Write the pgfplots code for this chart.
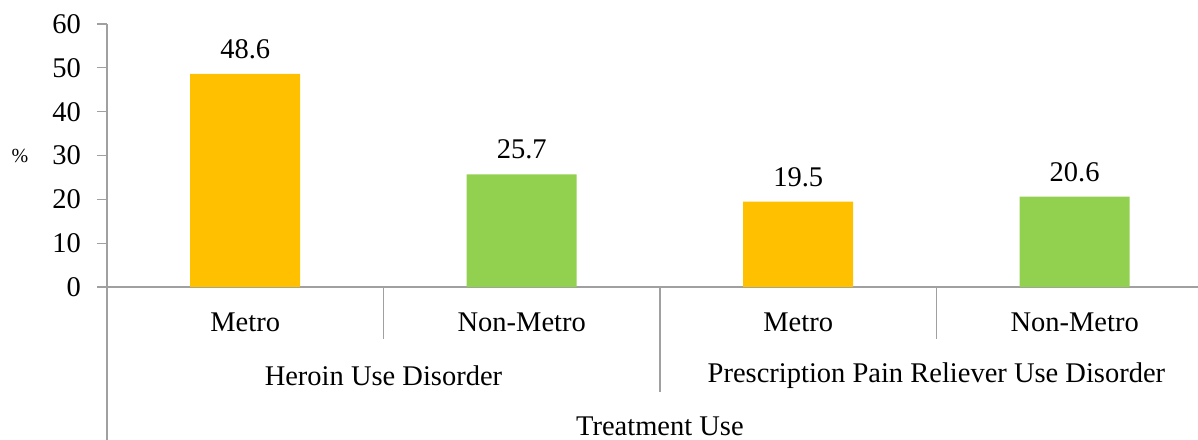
\documentclass[border=0pt]{standalone}
\usepackage{pgfplots}
\pgfplotsset{compat=1.18}
\usepackage{fontspec}
\setmainfont{Liberation Serif}
\definecolor{gold}{HTML}{FFC000}
\definecolor{lgreen}{HTML}{92D050}
\definecolor{axgray}{HTML}{A0A0A0}
\begin{document}
\begin{tikzpicture}
\begin{axis}[
  at={(0,0)}, anchor=south west,
  scale only axis, width=1091bp, height=263bp,
  xmin=-0.5, xmax=3.446, ymin=0, ymax=60,
  axis lines=left, axis line style={-, axgray, line width=1.2bp},
  xtick=\empty,
  ytick={0,10,...,60},
  tick align=outside, major tick length=10bp,
  tick style={axgray, line width=1.2bp},
  /pgf/number format/assume math mode=true,
  yticklabel style={font=\fontsize{28.5bp}{32bp}\selectfont, inner sep=0pt, xshift=-16bp},
  clip=false,
  ybar, bar width=110bp, bar shift=0pt,
  nodes near coords={\pgfmathprintnumber[fixed,fixed zerofill,precision=1]{\pgfplotspointmeta}},
  every node near coord/.append style={font=\fontsize{28.5bp}{32bp}\selectfont, anchor=base, inner sep=0pt, yshift=15.5bp},
]
\addplot[fill=gold, draw=none] coordinates {(0,48.6) (2,19.5)};
\addplot[fill=lgreen, draw=none] coordinates {(1,25.7) (3,20.6)};
\draw[axgray, line width=1.2bp] (axis cs:-0.5,0) -- ([yshift=-153bp]axis cs:-0.5,0);
\draw[axgray, line width=1.2bp] (axis cs:0.5,0) -- ([yshift=-52bp]axis cs:0.5,0);
\draw[axgray, line width=1.2bp] (axis cs:2.5,0) -- ([yshift=-52bp]axis cs:2.5,0);
\draw[axgray, line width=1.2bp] (axis cs:1.5,0) -- ([yshift=-105bp]axis cs:1.5,0);
\begin{scope}[every node/.style={font=\fontsize{28.5bp}{32bp}\selectfont, inner sep=0pt, anchor=center}]
\node at ([yshift=-35bp]axis cs:0,0) {Metro};
\node at ([yshift=-35bp]axis cs:1,0) {Non-Metro};
\node at ([yshift=-35bp]axis cs:2,0) {Metro};
\node at ([yshift=-35bp]axis cs:3,0) {Non-Metro};
\node at ([yshift=-89bp]axis cs:0.5,0) {Heroin Use Disorder};
\node at ([yshift=-89bp]axis cs:2.5,0) {Prescription Pain Reliever Use Disorder};
\node at ([yshift=-139bp]axis cs:1.5,0) {Treatment Use};
\node[font=\fontsize{20bp}{24bp}\selectfont] at ([xshift=-87bp]axis cs:-0.5,30) {\%};
\end{scope}
\end{axis}
\pgfresetboundingbox
\useasboundingbox (-107bp,-153bp) rectangle (1091bp,287bp);
\end{tikzpicture}
\end{document}
